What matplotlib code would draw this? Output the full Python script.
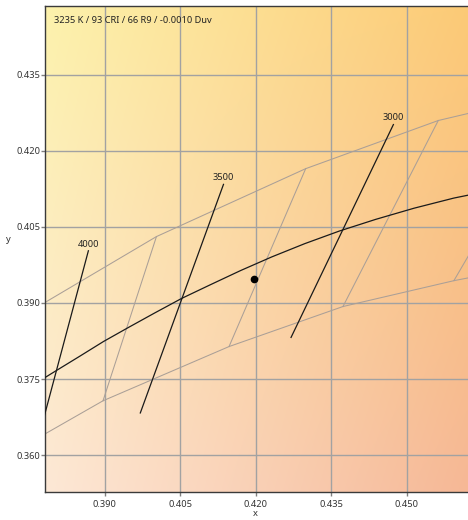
import numpy as np
import matplotlib
matplotlib.use("Agg")
import matplotlib.pyplot as plt

# Planckian locus (CIE 1931 xy) at 100 K steps
planck_cct = [4200, 4100, 4000, 3900, 3800, 3700, 3600, 3500, 3400, 3300, 3200,
              3100, 3000, 2900, 2800, 2700, 2600]
planck_x = [0.3720, 0.3761, 0.3805, 0.3851, 0.3898, 0.3948, 0.3999, 0.4053, 0.4110,
            0.4170, 0.4232, 0.4297, 0.4366, 0.4438, 0.4514, 0.4593, 0.4677]
planck_y = [0.3713, 0.3740, 0.3767, 0.3795, 0.3824, 0.3852, 0.3880, 0.3909, 0.3936,
            0.3964, 0.3991, 0.4017, 0.4042, 0.4065, 0.4087, 0.4107, 0.4124]

# isotherm segments (upper end, lower end)
iso_cct = ["4000", "3500", "3000"]
iso_top_x = [0.3868, 0.4136, 0.4473]
iso_top_y = [0.4003, 0.4134, 0.4252]
iso_bot_x = [0.3742, 0.3971, 0.4270]
iso_bot_y = [0.3533, 0.3683, 0.3832]

# tolerance quadrangles: upper and lower corner chains
quad_upper_x = [0.3736, 0.4003, 0.4299, 0.4562, 0.4813]
quad_upper_y = [0.3874, 0.4031, 0.4165, 0.4260, 0.4319]
quad_lower_x = [0.3670, 0.3897, 0.4147, 0.4373, 0.4593, 0.4805]
quad_lower_y = [0.3578, 0.3707, 0.3814, 0.3893, 0.3944, 0.3985]

# measured source
src_x, src_y = 0.4197, 0.3947
src_label = "3235 K / 93 CRI / 66 R9 / -0.0010 Duv"

x_ticks = [0.390, 0.405, 0.420, 0.435, 0.450]
y_ticks = [0.360, 0.375, 0.390, 0.405, 0.420, 0.435]
xlim = (0.3782, 0.4621)
ylim = (0.3527, 0.4486)

plt.rcParams["font.family"] = ["Noto Sans", "DejaVu Sans"]
fs = 6.7

fig = plt.figure(figsize=(4.68, 5.2), dpi=100)
ax = fig.add_axes([0.0962, 0.0538, 0.9038, 0.9347])

# smooth colour field behind the diagram
tl = np.array([253, 242, 172]) / 255
tr = np.array([252, 202, 118]) / 255
bl = np.array([253, 232, 214]) / 255
br = np.array([246, 184, 150]) / 255
u = np.linspace(0, 1, 200)[None, :, None]
v = np.linspace(0, 1, 200)[:, None, None]
field = (1 - v) * ((1 - u) * tl + u * tr) + v * ((1 - u) * bl + u * br)
ax.imshow(field, extent=(xlim[0], xlim[1], ylim[0], ylim[1]), origin="upper",
          aspect="auto", zorder=0, interpolation="bilinear")

ax.set_axisbelow(True)
ax.grid(True, color="#a2a2a2", lw=1.0)

gray = "#aa9f97"
ax.plot(quad_upper_x, quad_upper_y, color=gray, lw=0.75, zorder=2)
ax.plot(quad_lower_x, quad_lower_y, color=gray, lw=0.75, zorder=2)
for i in range(1, len(quad_upper_x)):
    ax.plot([quad_upper_x[i], quad_lower_x[i]], [quad_upper_y[i], quad_lower_y[i]],
            color=gray, lw=0.75, zorder=2)

ax.plot(planck_x, planck_y, color="#1a1a1a", lw=0.9, zorder=3)

for lab, x0, y0, x1, y1 in zip(iso_cct, iso_top_x, iso_top_y, iso_bot_x, iso_bot_y):
    ax.plot([x0, x1], [y0, y1], color="#1a1a1a", lw=0.9, zorder=3)
    ax.annotate(lab, (x0, y0), xytext=(0, 1.5), textcoords="offset points",
                ha="center", va="bottom", fontsize=fs, color="#222222")

ax.plot([src_x], [src_y], "o", color="black", ms=4.5, zorder=4)
ax.text(0.021, 0.971, src_label, transform=ax.transAxes, ha="left", va="center",
        fontsize=fs, color="#222222")

ax.set_xlim(xlim)
ax.set_ylim(ylim)
ax.set_xticks(x_ticks)
ax.set_yticks(y_ticks)
ax.set_xticklabels([f"{t:.3f}" for t in x_ticks])
ax.set_yticklabels([f"{t:.3f}" for t in y_ticks])
ax.tick_params(labelsize=fs, labelcolor="#333333", color="#808080", length=3, width=1, pad=0.5)
ax.tick_params(axis="x", pad=3)

for side in ("left", "bottom", "top"):
    ax.spines[side].set_color("#3a3a3a")
    ax.spines[side].set_linewidth(1.0)
ax.spines["right"].set_visible(False)

fig.text(8 / 468, 1 - 240 / 520, "y", ha="center", va="center", fontsize=fs, color="#333333")
fig.text(255 / 468, 1 - 514 / 520, "x", ha="center", va="center", fontsize=fs, color="#333333")

fig.savefig("out.png", dpi=100)
plt.close(fig)
